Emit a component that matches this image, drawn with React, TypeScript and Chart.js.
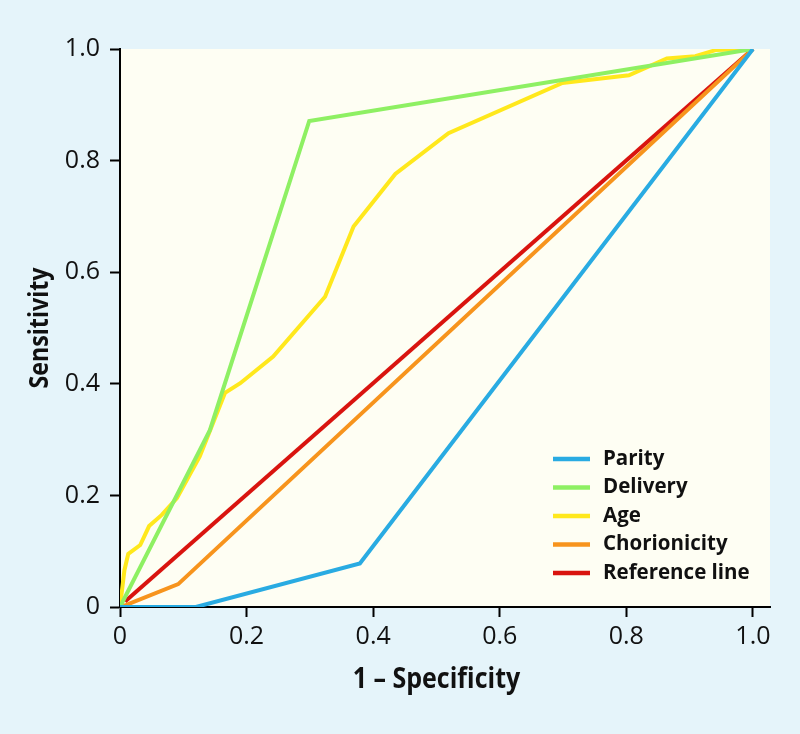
import React, { useEffect, useRef } from "react";
import { Chart, registerables } from "chart.js";

Chart.register(...registerables);

const seriesLabels = ["Parity", "Delivery", "Age", "Chorionicity", "Reference line"];
const seriesColors = ["#29abe2", "#8ef063", "#ffe81c", "#f7941d", "#d9140f"];

const parityX = [0, 0.12, 0.379, 1];
const parityY = [0, 0, 0.078, 1];

const deliveryX = [0, 0.142, 0.299, 1];
const deliveryY = [0, 0.317, 0.871, 1];

const ageX = [0, 0.007, 0.013, 0.032, 0.046, 0.066, 0.09, 0.126, 0.166, 0.19, 0.242, 0.324, 0.369, 0.435, 0.519, 0.699, 0.804, 0.864, 0.909, 0.941, 1];
const ageY = [0, 0.066, 0.095, 0.111, 0.145, 0.165, 0.195, 0.27, 0.384, 0.401, 0.449, 0.556, 0.682, 0.776, 0.849, 0.939, 0.953, 0.983, 0.987, 0.998, 1];

const chorionicityX = [0, 0.01, 0.092, 1];
const chorionicityY = [0, 0.004, 0.041, 1];

const referenceX = [0.008, 1];
const referenceY = [0.01, 1];

const tickValues = [0, 0.2, 0.4, 0.6, 0.8, 1.0];

const xTitle = "1 – Specificity";
const yTitle = "Sensitivity";

const zip = (xs: number[], ys: number[]) => xs.map((x, i) => ({ x, y: ys[i] }));

const seriesData = [
  zip(parityX, parityY),
  zip(deliveryX, deliveryY),
  zip(ageX, ageY),
  zip(chorionicityX, chorionicityY),
  zip(referenceX, referenceY),
];

const tickFont = { family: "'Open Sans', sans-serif", size: 25, weight: 400 };

const bgPlugin = {
  id: "bgPlugin",
  beforeDraw(chart: any) {
    const { ctx, chartArea, width, height } = chart;
    ctx.save();
    ctx.fillStyle = "#e5f4fa";
    ctx.fillRect(0, 0, width, height);
    ctx.fillStyle = "#fefef3";
    ctx.fillRect(chartArea.left, chartArea.top, chartArea.right - chartArea.left, chartArea.bottom - chartArea.top);
    ctx.restore();
  },
};

const titlePlugin = {
  id: "axisTitles",
  afterDraw(chart: any) {
    const { ctx, scales } = chart;
    const cx = scales.x.getPixelForValue(0.5);
    const cy = scales.y.getPixelForValue(0.5);
    ctx.save();
    ctx.fillStyle = "#111";
    ctx.textAlign = "center";
    ctx.textBaseline = "alphabetic";
    ctx.translate(cx, 688);
    ctx.scale(0.893, 1);
    ctx.font = "bold 28px 'Open Sans', sans-serif";
    ctx.fillText(xTitle, 0, 0);
    ctx.restore();

    ctx.save();
    ctx.fillStyle = "#111";
    ctx.textAlign = "center";
    ctx.textBaseline = "alphabetic";
    ctx.translate(48, cy);
    ctx.rotate(-Math.PI / 2);
    ctx.scale(0.893, 1);
    ctx.font = "bold 26px 'Open Sans', sans-serif";
    ctx.fillText(yTitle, 0, 0);
    ctx.restore();
  },
};

const legendPlugin = {
  id: "customLegend",
  afterDatasetsDraw(chart: any) {
    const { ctx } = chart;
    ctx.save();
    const x0 = 553;
    const x1 = 590;
    const tx = 603;
    const y0 = 459;
    const dy = 28.5;
    ctx.font = "bold 20.5px 'Open Sans', sans-serif";
    ctx.textBaseline = "middle";
    ctx.textAlign = "left";
    chart.data.datasets.forEach((ds: any, i: number) => {
      const y = y0 + i * dy;
      ctx.strokeStyle = ds.borderColor;
      ctx.lineWidth = 4.5;
      ctx.beginPath();
      ctx.moveTo(x0, y);
      ctx.lineTo(x1, y);
      ctx.stroke();
      ctx.fillStyle = "#111";
      ctx.fillText(ds.label, tx, y);
    });
    ctx.restore();
  },
};

export default function App() {
  const canvasRef = useRef<HTMLCanvasElement | null>(null);

  useEffect(() => {
    document.body.style.margin = "0";
    const canvas = canvasRef.current;
    if (!canvas) return;
    const chart = new Chart(canvas, {
      type: "line",
      data: {
        datasets: seriesData.map((d, i) => ({
          label: seriesLabels[i],
          data: d,
          borderColor: seriesColors[i],
          backgroundColor: seriesColors[i],
          borderWidth: 4,
          pointRadius: 0,
          tension: 0,
          fill: false,
        })),
      },
      options: {
        responsive: false,
        animation: false,
        parsing: false as any,
        layout: { padding: { top: 49, right: 30, left: 0, bottom: 0 } },
        plugins: {
          legend: { display: false },
          tooltip: { enabled: false },
        },
        scales: {
          x: {
            type: "linear",
            min: 0,
            max: 1.027,
            afterBuildTicks: (scale: any) => {
              scale.ticks = tickValues.map((v) => ({ value: v }));
            },
            afterFit: (scale: any) => {
              scale.height = 127;
            },
            grid: { drawOnChartArea: false, tickLength: 10, tickWidth: 2, tickColor: "#000" },
            border: { display: true, color: "#000", width: 2 },
            ticks: {
              color: "#111",
              font: tickFont,
              padding: 5,
              maxRotation: 0,
              autoSkip: false,
              callback: (v: any) => (Number(v) === 0 ? "0" : Number(v).toFixed(1)),
            },
            title: { display: false },
          },
          y: {
            type: "linear",
            min: 0,
            max: 1,
            afterBuildTicks: (scale: any) => {
              scale.ticks = tickValues.map((v) => ({ value: v }));
            },
            afterFit: (scale: any) => {
              scale.width = 120;
            },
            grid: { drawOnChartArea: false, tickLength: 10, tickWidth: 2, tickColor: "#000" },
            border: { display: true, color: "#000", width: 2 },
            ticks: {
              color: "#111",
              font: tickFont,
              padding: 10,
              autoSkip: false,
              callback: (v: any) => (Number(v) === 0 ? "0" : Number(v).toFixed(1)),
            },
            title: { display: false },
          },
        },
      },
      plugins: [bgPlugin, legendPlugin, titlePlugin],
    });
    return () => chart.destroy();
  }, []);

  return (
    <div style={{ width: 800, height: 734, background: "#e5f4fa" }}>
      <canvas ref={canvasRef} width={800} height={734} style={{ display: "block", width: 800, height: 734 }} />
    </div>
  );
}
